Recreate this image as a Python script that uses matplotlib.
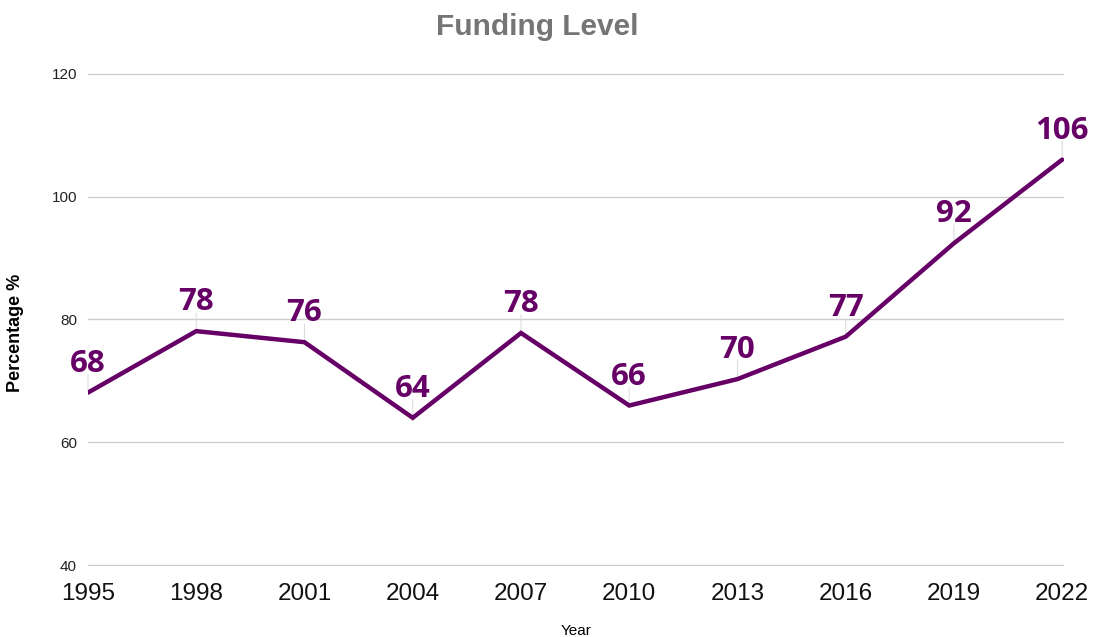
import matplotlib
matplotlib.use("Agg")
import matplotlib.pyplot as plt

# data
years = [1995, 1998, 2001, 2004, 2007, 2010, 2013, 2016, 2019, 2022]
funding = [68.1, 78.1, 76.3, 64.0, 77.8, 66.0, 70.3, 77.2, 92.4, 106.0]
labels = ["68", "78", "76", "64", "78", "66", "70", "77", "92", "106"]
yticks = [40, 60, 80, 100, 120]

purple = "#660066"

fig = plt.figure(figsize=(10.93, 6.37), dpi=100)
ax = fig.add_axes([0.0805, 0.1115, 0.893, 0.774])

ax.plot(years, funding, color=purple, linewidth=3.2, solid_capstyle="round",
        solid_joinstyle="miter", zorder=3)

# data labels with small leader lines
for x, y, lab in zip(years, funding, labels):
    ax.annotate("", xy=(x, y), xytext=(0, 13), textcoords="offset points",
                arrowprops=dict(arrowstyle="-", color="#dddddd", lw=0.8,
                                shrinkA=0, shrinkB=0), zorder=2)
    ax.annotate(lab, xy=(x, y), xytext=(0, 10), textcoords="offset points",
                ha="center", va="bottom", fontsize=22.5, fontweight="bold",
                color=purple, family="Open Sans", zorder=4)

ax.set_xlim(1995, 2022.05)
ax.set_ylim(39.9, 120.1)
ax.set_yticks(yticks)
ax.set_xticks(years)
ax.grid(axis="y", color="#cccccc", linewidth=1)
ax.set_axisbelow(True)
for s in ax.spines.values():
    s.set_visible(False)
ax.tick_params(axis="both", length=0)
ax.tick_params(axis="y", labelsize=11, labelcolor="#222222", pad=8)
ax.tick_params(axis="x", labelsize=17.5, labelcolor="#111111", pad=12)
for t in ax.get_xticklabels() + ax.get_yticklabels():
    t.set_family("Liberation Sans")

fig.text(16 / 1093, 1 - 333 / 637, "Percentage %", rotation=90, ha="center", va="center",
         fontsize=13, fontweight="bold", family="Liberation Sans")
fig.text(576 / 1093, 1 - 631 / 637, "Year", ha="center", va="center",
         fontsize=11, family="Liberation Sans")
fig.text(537 / 1093, 1 - 27 / 637, "Funding Level", ha="center", va="center",
         fontsize=21.5, fontweight="bold", color="#757575", family="Liberation Sans")

fig.savefig("out.png", dpi=100)
